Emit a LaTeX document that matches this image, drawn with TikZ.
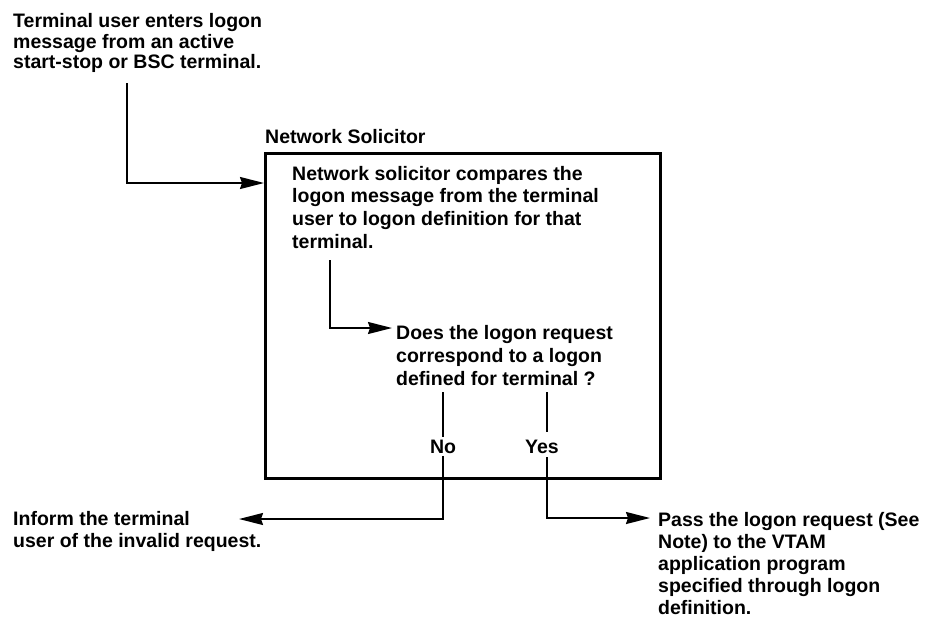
\documentclass[tikz,border=0pt]{standalone}
\usepackage{fontspec}
\setmainfont{Liberation Sans}
\usetikzlibrary{arrows.meta}
\begin{document}
\begin{tikzpicture}[x=1pt,y=-1pt,
  txt/.style={font=\fontsize{19.5}{22.6}\selectfont\bfseries, align=left, inner sep=0pt, anchor=north west},
  lbl/.style={font=\fontsize{19.5}{22.6}\selectfont\bfseries, inner sep=2.5pt, anchor=base},
  conn/.style={line width=1.7pt},
  arr/.style={conn, -{Stealth[length=24pt,width=12pt,inset=2pt]}},
  boxst/.style={draw, line width=2.6pt, minimum width=395pt, minimum height=325pt, anchor=north west, inner sep=0pt}
  ]
\useasboundingbox (0,0) rectangle (929,622);
% texts
\node[txt, font=\fontsize{19.5}{20.8}\selectfont\bfseries] (t1) at (13,13)
  {Terminal user enters logon\\message from an active\\start-stop or BSC terminal.};
\node[txt] (hdr) at (265,129) {Network Solicitor};
\node[boxst] (box) at (264,152) {};
\node[txt] (bt) at (292,166)
  {Network solicitor compares the\\logon message from the terminal\\user to logon definition for that\\terminal.};
\node[txt, font=\fontsize{19.5}{23}\selectfont\bfseries] (q) at (396,325)
  {Does the logon request\\correspond to a logon\\defined for terminal ?};
\node[lbl] (no) at (443,453) {No};
\node[lbl] (yes) at (542,453) {Yes};
\node[txt] (inf) at (13,511) {Inform the terminal\\user of the invalid request.};
\node[txt, font=\fontsize{19.5}{22}\selectfont\bfseries] (pass) at (658,512)
  {Pass the logon request (See\\Note) to the VTAM\\application program\\specified through logon\\definition.};
% connectors
\coordinate (a1) at (127,83);
\coordinate (a2) at (264,183);
\draw[arr] (a1) |- (a2);
\coordinate (b1) at (330,260);
\coordinate (b2) at (392,328);
\draw[arr] (b1) |- (b2);
\coordinate (n1) at (443,392);
\coordinate (n2) at (239,519);
\draw[conn] (n1) -- (no.north);
\draw[arr] (no.south) |- (n2);
\coordinate (y1) at (547,392);
\coordinate (y2) at (547,432);
\coordinate (y3) at (547,457);
\coordinate (y4) at (650,518);
\draw[conn] (y1) -- (y2);
\draw[arr] (y3) |- (y4);
\end{tikzpicture}
\end{document}
